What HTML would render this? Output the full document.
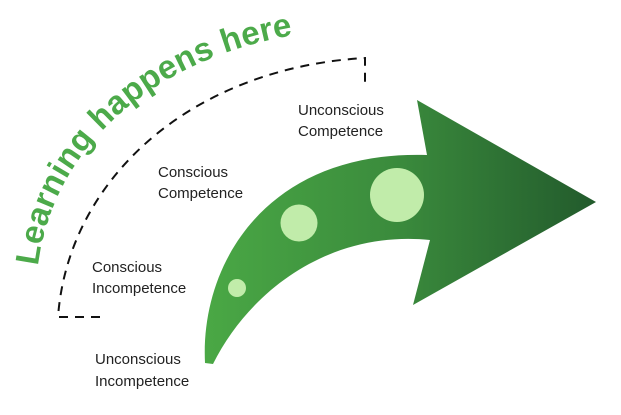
<!DOCTYPE html>
<html><head><meta charset="utf-8"><style>
html,body{margin:0;padding:0;background:#fff;}
svg{display:block;}
text{font-family:"Liberation Sans",sans-serif;}
</style></head><body>
<svg width="621" height="415" viewBox="0 0 621 415" xmlns="http://www.w3.org/2000/svg">
<defs>
<linearGradient id="g" x1="205" y1="0" x2="598" y2="0" gradientUnits="userSpaceOnUse">
<stop offset="0" stop-color="#4aa845"/>
<stop offset="0.5" stop-color="#3a8a3c"/>
<stop offset="1" stop-color="#225a2c"/>
</linearGradient>
<path id="tp" d="M 38,266 C 52,150 150,58 300,34"/>
</defs>
<path d="M100,317 L58,317 C 68,180 190,68 365,58 L365,88" fill="none" stroke="#111" stroke-width="2" stroke-dasharray="9,7"/>
<path d="M205,363 C 200,260 270,150 427,155 L417,100 L596,202 L413,305 L430,240 C 330,230 250,290 213,364 Z" fill="url(#g)"/>
<circle cx="237" cy="288" r="9" fill="#c1ecaa"/>
<circle cx="299" cy="223" r="18.5" fill="#c1ecaa"/>
<circle cx="397" cy="195" r="27" fill="#c1ecaa"/>
<text font-size="33" font-weight="bold" fill="#4caa4a" letter-spacing="0.3"><textPath href="#tp">Learning happens here</textPath></text>
<g font-size="15" fill="#222">
<text x="298" y="115">Unconscious</text>
<text x="298" y="136">Competence</text>
<text x="158" y="177">Conscious</text>
<text x="158" y="198">Competence</text>
<text x="92" y="272">Conscious</text>
<text x="92" y="293">Incompetence</text>
<text x="95" y="364">Unconscious</text>
<text x="95" y="386">Incompetence</text>
</g>
</svg>
</body></html>
